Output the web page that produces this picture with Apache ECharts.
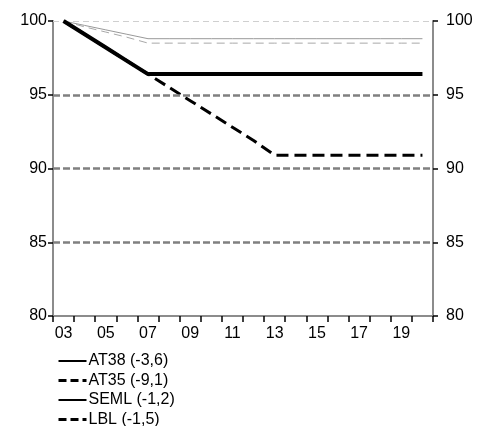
<!DOCTYPE html>
<html><head><meta charset="utf-8">
<script src="https://cdn.jsdelivr.net/npm/echarts@6/dist/echarts.min.js"></script>
<style>html,body{margin:0;padding:0;background:#fff}#c{width:481px;height:426px}</style>
</head><body><div id="c"></div>
<script>
var categories = ['03','04','05','06','07','08','09','10','11','12','13','14','15','16','17','18','19','20'];
var at38 = [100, 99.1, 98.2, 97.3, 96.4, 96.4, 96.4, 96.4, 96.4, 96.4, 96.4, 96.4, 96.4, 96.4, 96.4, 96.4, 96.4, 96.4];
var at35 = [100, 99.1, 98.2, 97.3, 96.4, 95.5, 94.6, 93.7, 92.8, 91.9, 90.9, 90.9, 90.9, 90.9, 90.9, 90.9, 90.9, 90.9];
var seml = [100, 99.7, 99.4, 99.1, 98.8, 98.8, 98.8, 98.8, 98.8, 98.8, 98.8, 98.8, 98.8, 98.8, 98.8, 98.8, 98.8, 98.8];
var lbl  = [100, 99.6, 99.25, 98.9, 98.5, 98.5, 98.5, 98.5, 98.5, 98.5, 98.5, 98.5, 98.5, 98.5, 98.5, 98.5, 98.5, 98.5];
var seriesNames = ['AT38 (-3,6)', 'AT35 (-9,1)', 'SEML (-1,2)', 'LBL (-1,5)'];
var yTicks = [80, 85, 90, 95, 100];
var gridValues = [95, 90, 85];
var topLine = [100];

var FONT = 'Liberation Sans, Arial, sans-serif';
var chart = echarts.init(document.getElementById('c'), null, {renderer: 'canvas'});
var yAxisBase = function (pos, margin) {
  return {
    type: 'value', position: pos, min: yTicks[0], max: yTicks[yTicks.length - 1], interval: 5,
    axisLine: {show: true, lineStyle: {color: '#8c8c8c', width: 2}},
    axisTick: {show: true, inside: false, length: 5, lineStyle: {color: '#000', width: 1.5}},
    axisLabel: {margin: margin, color: '#000', fontFamily: FONT, fontSize: 16},
    splitLine: {show: false}
  };
};
var hiddenSym = {opacity: 0, color: '#000'};
chart.setOption({
  animation: false,
  grid: {left: 53, right: 48, top: 21, bottom: 110, containLabel: false},
  legend: {
    orient: 'vertical', left: 57, top: 353, height: 120, padding: 0, itemWidth: 28, itemHeight: 14, itemGap: 3.5,
    textStyle: {fontFamily: FONT, fontSize: 16, lineHeight: 14, color: '#000', padding: [0, 0, 0, -3]},
    data: [
      {name: seriesNames[0], itemStyle: hiddenSym, lineStyle: {color: '#000', width: 2, type: 'solid'}},
      {name: seriesNames[1], itemStyle: hiddenSym, lineStyle: {color: '#000', width: 3, type: [8, 4]}},
      {name: seriesNames[2], itemStyle: hiddenSym, lineStyle: {color: '#000', width: 2, type: 'solid'}},
      {name: seriesNames[3], itemStyle: hiddenSym, lineStyle: {color: '#000', width: 3, type: [8, 4]}}
    ]
  },
  xAxis: {
    type: 'category', data: categories, boundaryGap: true,
    axisLine: {show: true, lineStyle: {color: '#8c8c8c', width: 2}},
    axisTick: {show: true, interval: 0, alignWithLabel: false, length: 6, lineStyle: {color: '#000', width: 1.5}},
    axisLabel: {interval: 1, margin: 10, color: '#000', fontFamily: FONT, fontSize: 16},
    splitLine: {show: false}
  },
  yAxis: [yAxisBase('left', 6), yAxisBase('right', 13)],
  series: [
    {
      name: 'grid', type: 'line', data: [], silent: true, legendHoverLink: false,
      markLine: {
        silent: true, symbol: 'none', label: {show: false}, animation: false,
        lineStyle: {color: '#808080', width: 2.5, type: [7, 3]},
        data: gridValues.map(function (v) { return {yAxis: v}; })
      }
    },
    {
      name: 'top', type: 'line', data: [], silent: true, legendHoverLink: false,
      markLine: {
        silent: true, symbol: 'none', label: {show: false}, animation: false,
        lineStyle: {color: '#cfcfcf', width: 1, type: [6, 4]},
        data: topLine.map(function (v) { return {yAxis: v}; })
      }
    },
    {name: seriesNames[3], type: 'line', data: lbl, symbol: 'none', z: 3, color: '#000',
      lineStyle: {color: '#a8a8a8', width: 1, type: [8, 5]}},
    {name: seriesNames[2], type: 'line', data: seml, symbol: 'none', z: 3, color: '#000',
      lineStyle: {color: '#999999', width: 1, type: 'solid'}},
    {name: seriesNames[1], type: 'line', data: at35, symbol: 'none', z: 4, color: '#000',
      lineStyle: {color: '#000', width: 3, type: [12, 6]}},
    {name: seriesNames[0], type: 'line', data: at38, symbol: 'none', z: 5, color: '#000',
      lineStyle: {color: '#000', width: 4, type: 'solid'}}
  ]
});
</script></body></html>
